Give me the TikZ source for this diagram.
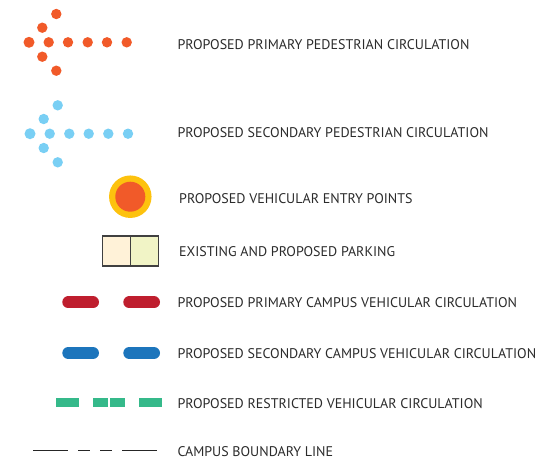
\documentclass[tikz,border=0pt]{standalone}
\usepackage{fontspec}
\setmainfont{PT Sans}
\definecolor{txt}{HTML}{2B2B2B}
\definecolor{orng}{HTML}{F15A29}
\definecolor{lblue}{HTML}{79CFF4}
\definecolor{ring}{HTML}{FDC20E}
\definecolor{pcream}{HTML}{FFF2D8}
\definecolor{pgreen}{HTML}{F1F4C6}
\definecolor{dred}{HTML}{BF1E2E}
\definecolor{dblue}{HTML}{1C75BC}
\definecolor{dgreen}{HTML}{35B98A}
\begin{document}
\begin{tikzpicture}[x=1pt,y=-1pt,
  lbl/.style={anchor=base west,inner sep=0pt,text=txt,font=\fontsize{14.0}{15}\selectfont},
  odot/.style={circle,fill=orng,inner sep=0pt,minimum size=10.4pt},
  bdot/.style={circle,fill=lblue,inner sep=0pt,minimum size=10.4pt},
  redbar/.style={draw=dred,line width=12pt,line cap=round},
  bluebar/.style={draw=dblue,line width=12pt,line cap=round},
  grbar/.style={fill=dgreen,draw=none,inner sep=0pt,minimum height=9.5pt},
  bline/.style={draw=black!85,line width=1pt}]
\useasboundingbox (0,0) rectangle (556,459);
% primary pedestrian
\node[odot,minimum size=11pt] (o0) at (29,42.3) {};
\foreach \i/\x in {1/48.7,2/68,3/87.7,4/107,5/126.7} \node[odot] (o\i) at (\x,42.3) {};
\node[odot] (ou1) at (42.3,27.7) {};
\node[odot] (ou2) at (56.3,14) {};
\node[odot] (od1) at (42.3,56.7) {};
\node[odot] (od2) at (56.3,70.7) {};
% secondary pedestrian
\node[bdot,minimum size=11pt] (b0) at (30,133.7) {};
\foreach \i/\x in {1/49.7,2/69.3,3/88.7,4/108.3,5/128} \node[bdot] (b\i) at (\x,133.7) {};
\node[bdot] (bu1) at (43.7,119) {};
\node[bdot] (bu2) at (57.7,105.3) {};
\node[bdot] (bd1) at (43.7,148) {};
\node[bdot] (bd2) at (57.7,162.3) {};
% entry point
\node[circle,fill=ring,inner sep=0pt,minimum size=42.5pt] (ring) at (130.3,196.7) {};
\node[circle,fill=orng,inner sep=0pt,minimum size=30pt] (entry) at (ring.center) {};
% parking
\node[draw=black!75,line width=1.3pt,fill=pcream,inner sep=0pt,minimum width=27.6pt,minimum height=30pt] (pk1) at (116.5,251) {};
\node[draw=black!75,line width=1.3pt,fill=pgreen,inner sep=0pt,minimum width=27.6pt,minimum height=30pt] (pk2) at (144.5,251) {};
% primary vehicular
\coordinate (r1a) at (68.3,302.3); \coordinate (r1b) at (93,302.3);
\coordinate (r2a) at (129.3,302.3); \coordinate (r2b) at (154,302.3);
\draw[redbar] (r1a) -- (r1b);
\draw[redbar] (r2a) -- (r2b);
% secondary vehicular
\coordinate (u1a) at (68.3,353); \coordinate (u1b) at (93,353);
\coordinate (u2a) at (129.3,353); \coordinate (u2b) at (154,353);
\draw[bluebar] (u1a) -- (u1b);
\draw[bluebar] (u2a) -- (u2b);
% restricted
\node[grbar,minimum width=22.4pt] (g1) at (67.5,402.3) {};
\node[grbar,minimum width=15pt] (g2) at (100.5,402.3) {};
\node[grbar,minimum width=15pt] (g3) at (117.5,402.3) {};
\node[grbar,minimum width=22.4pt] (g4) at (150.5,402.3) {};
% boundary
\coordinate (l1a) at (33,450.3); \coordinate (l1b) at (68.3,450.3);
\coordinate (l2a) at (78.3,450.3); \coordinate (l2b) at (90,450.3);
\coordinate (l3a) at (100,450.3); \coordinate (l3b) at (112,450.3);
\coordinate (l4a) at (122,450.3); \coordinate (l4b) at (157.3,450.3);
\draw[bline] (l1a) -- (l1b);
\draw[bline] (l2a) -- (l2b);
\draw[bline] (l3a) -- (l3b);
\draw[bline] (l4a) -- (l4b);
% labels
\node[lbl] (t1) at (177.3,49) {PROPOSED PRIMARY PEDESTRIAN CIRCULATION};
\node[lbl] (t2) at (177.3,137) {PROPOSED SECONDARY PEDESTRIAN CIRCULATION};
\node[lbl] (t3) at (179,203) {PROPOSED VEHICULAR ENTRY POINTS};
\node[lbl] (t4) at (179,256.5) {EXISTING AND PROPOSED PARKING};
\node[lbl] (t5) at (177.3,307) {PROPOSED PRIMARY CAMPUS VEHICULAR CIRCULATION};
\node[lbl] (t6) at (177.3,358) {PROPOSED SECONDARY CAMPUS VEHICULAR CIRCULATION};
\node[lbl] (t7) at (177.3,408) {PROPOSED RESTRICTED VEHICULAR CIRCULATION};
\node[lbl] (t8) at (177.3,456) {CAMPUS BOUNDARY LINE};
\end{tikzpicture}
\end{document}
